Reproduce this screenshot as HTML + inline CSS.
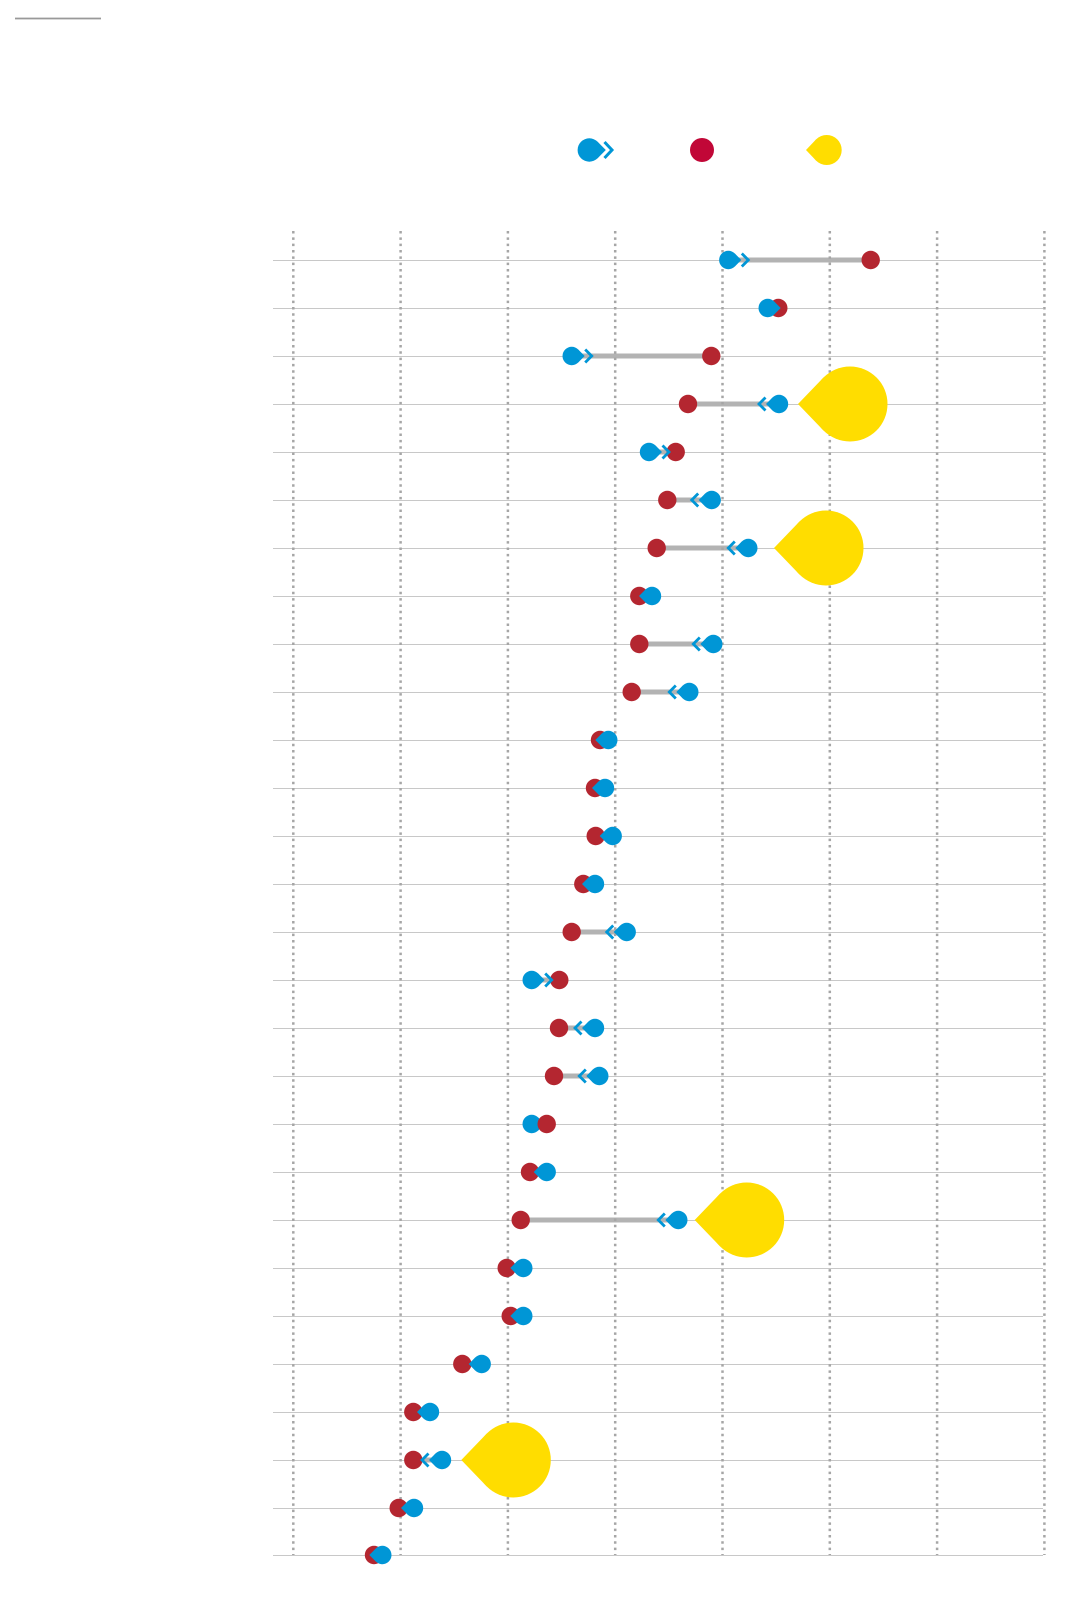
<!DOCTYPE html>
<html>
<head>
<meta charset="utf-8">
<style>
html,body{margin:0;padding:0;background:#fff;}
body{width:1092px;height:1604px;overflow:hidden;font-family:"Liberation Sans",sans-serif;}
svg{display:block;}
</style>
</head>
<body>
<svg width="1092" height="1604" viewBox="0 0 1092 1604" xmlns="http://www.w3.org/2000/svg">
<defs>
  <g id="bR" fill="#0096d6"><circle r="9.2"/><polygon points="0,0 6.5,-6.5 13,0 6.5,6.5"/></g>
  <g id="bL" fill="#0096d6"><circle r="9.2"/><polygon points="0,0 -6.5,-6.5 -13,0 -6.5,6.5"/></g>
  <polyline id="cR" points="13.5,-6.5 20,0 13.5,6.5" fill="none" stroke="#0096d6" stroke-width="2.8"/>
  <polyline id="cL" points="-13.5,-6.5 -20,0 -13.5,6.5" fill="none" stroke="#0096d6" stroke-width="2.8"/>
  <circle id="rd" r="9.2" fill="#b42630"/>
  <g id="yL" fill="#ffdd00"><circle r="37.5"/><polygon points="0,0 -26.5,-26.5 -52,0 -26.5,26.5"/></g>
</defs>

<!-- top-left rule -->
<line x1="15" y1="18.5" x2="101" y2="18.5" stroke="#999" stroke-width="1.7"/>

<!-- legend -->
<g fill="#0096d6">
  <circle cx="589.3" cy="150" r="11.7"/>
  <polygon points="589.3,150 597.6,141.7 605.8,150 597.6,158.3"/>
</g>
<polyline points="604.5,142 612,150 604.5,158" fill="none" stroke="#0096d6" stroke-width="3"/>
<circle cx="702" cy="150" r="12" fill="#c10737"/>
<g fill="#ffdd00">
  <circle cx="826.7" cy="150" r="15"/>
  <polygon points="826.7,150 816.1,139.4 806,150 816.1,160.6"/>
</g>

<!-- row lines -->
<g stroke="#c8c8c8" stroke-width="1">
  <line x1="273" y1="260.5" x2="1043" y2="260.5"/>
  <line x1="273" y1="308.5" x2="1043" y2="308.5"/>
  <line x1="273" y1="356.5" x2="1043" y2="356.5"/>
  <line x1="273" y1="404.5" x2="1043" y2="404.5"/>
  <line x1="273" y1="452.5" x2="1043" y2="452.5"/>
  <line x1="273" y1="500.5" x2="1043" y2="500.5"/>
  <line x1="273" y1="548.5" x2="1043" y2="548.5"/>
  <line x1="273" y1="596.5" x2="1043" y2="596.5"/>
  <line x1="273" y1="644.5" x2="1043" y2="644.5"/>
  <line x1="273" y1="692.5" x2="1043" y2="692.5"/>
  <line x1="273" y1="740.5" x2="1043" y2="740.5"/>
  <line x1="273" y1="788.5" x2="1043" y2="788.5"/>
  <line x1="273" y1="836.5" x2="1043" y2="836.5"/>
  <line x1="273" y1="884.5" x2="1043" y2="884.5"/>
  <line x1="273" y1="932.5" x2="1043" y2="932.5"/>
  <line x1="273" y1="980.5" x2="1043" y2="980.5"/>
  <line x1="273" y1="1028.5" x2="1043" y2="1028.5"/>
  <line x1="273" y1="1076.5" x2="1043" y2="1076.5"/>
  <line x1="273" y1="1124.5" x2="1043" y2="1124.5"/>
  <line x1="273" y1="1172.5" x2="1043" y2="1172.5"/>
  <line x1="273" y1="1220.5" x2="1043" y2="1220.5"/>
  <line x1="273" y1="1268.5" x2="1043" y2="1268.5"/>
  <line x1="273" y1="1316.5" x2="1043" y2="1316.5"/>
  <line x1="273" y1="1364.5" x2="1043" y2="1364.5"/>
  <line x1="273" y1="1412.5" x2="1043" y2="1412.5"/>
  <line x1="273" y1="1460.5" x2="1043" y2="1460.5"/>
  <line x1="273" y1="1508.5" x2="1043" y2="1508.5"/>
  <line x1="273" y1="1555.5" x2="1043" y2="1555.5"/>
</g>

<!-- bars -->
<g stroke="#b3b3b3" stroke-width="5">
  <line x1="728.3" y1="260" x2="870.7" y2="260"/>
  <line x1="767.7" y1="308" x2="778.3" y2="308"/>
  <line x1="571.7" y1="356" x2="711.3" y2="356"/>
  <line x1="688" y1="404" x2="779" y2="404"/>
  <line x1="649" y1="452" x2="675.7" y2="452"/>
  <line x1="667.3" y1="500" x2="711.7" y2="500"/>
  <line x1="656.7" y1="548" x2="748.3" y2="548"/>
  <line x1="639.3" y1="596" x2="652" y2="596"/>
  <line x1="639.3" y1="644" x2="713.3" y2="644"/>
  <line x1="631.7" y1="692" x2="689.3" y2="692"/>
  <line x1="600" y1="740" x2="608.3" y2="740"/>
  <line x1="595" y1="788" x2="605" y2="788"/>
  <line x1="595.7" y1="836" x2="612.7" y2="836"/>
  <line x1="583.3" y1="884" x2="595" y2="884"/>
  <line x1="571.7" y1="932" x2="626.7" y2="932"/>
  <line x1="531.7" y1="980" x2="559.3" y2="980"/>
  <line x1="559" y1="1028" x2="595" y2="1028"/>
  <line x1="554" y1="1076" x2="599.3" y2="1076"/>
  <line x1="531.7" y1="1124" x2="546.7" y2="1124"/>
  <line x1="530" y1="1172" x2="546.7" y2="1172"/>
  <line x1="520.7" y1="1220" x2="678.3" y2="1220"/>
  <line x1="506.7" y1="1268" x2="523.3" y2="1268"/>
  <line x1="510.7" y1="1316" x2="523.3" y2="1316"/>
  <line x1="462.3" y1="1364" x2="481.7" y2="1364"/>
  <line x1="413.3" y1="1412" x2="430" y2="1412"/>
  <line x1="413.3" y1="1460" x2="442" y2="1460"/>
  <line x1="398.7" y1="1508" x2="414" y2="1508"/>
  <line x1="374" y1="1555" x2="382.3" y2="1555"/>
</g>

<!-- dotted grid -->
<g stroke="#a6a6a6" stroke-width="2.5" stroke-dasharray="2.5 3.83">
  <line x1="293.3" y1="231" x2="293.3" y2="1555"/>
  <line x1="400.6" y1="231" x2="400.6" y2="1555"/>
  <line x1="507.9" y1="231" x2="507.9" y2="1555"/>
  <line x1="615.2" y1="231" x2="615.2" y2="1555"/>
  <line x1="722.5" y1="231" x2="722.5" y2="1555"/>
  <line x1="829.8" y1="231" x2="829.8" y2="1555"/>
  <line x1="937.1" y1="231" x2="937.1" y2="1555"/>
  <line x1="1044.4" y1="231" x2="1044.4" y2="1555"/>
</g>

<!-- yellow markers -->
<use href="#yL" x="850" y="404"/>
<use href="#yL" x="826" y="548"/>
<use href="#yL" x="746.7" y="1220"/>
<use href="#yL" x="513.3" y="1460"/>

<!-- red dots (except row 18, drawn on top later) -->
<use href="#rd" x="870.7" y="260"/>
<use href="#rd" x="778.3" y="308"/>
<use href="#rd" x="711.3" y="356"/>
<use href="#rd" x="688" y="404"/>
<use href="#rd" x="675.7" y="452"/>
<use href="#rd" x="667.3" y="500"/>
<use href="#rd" x="656.7" y="548"/>
<use href="#rd" x="639.3" y="596"/>
<use href="#rd" x="639.3" y="644"/>
<use href="#rd" x="631.7" y="692"/>
<use href="#rd" x="600" y="740"/>
<use href="#rd" x="595" y="788"/>
<use href="#rd" x="595.7" y="836"/>
<use href="#rd" x="583.3" y="884"/>
<use href="#rd" x="571.7" y="932"/>
<use href="#rd" x="559.3" y="980"/>
<use href="#rd" x="559" y="1028"/>
<use href="#rd" x="554" y="1076"/>
<use href="#rd" x="530" y="1172"/>
<use href="#rd" x="520.7" y="1220"/>
<use href="#rd" x="506.7" y="1268"/>
<use href="#rd" x="510.7" y="1316"/>
<use href="#rd" x="462.3" y="1364"/>
<use href="#rd" x="413.3" y="1412"/>
<use href="#rd" x="413.3" y="1460"/>
<use href="#rd" x="398.7" y="1508"/>
<use href="#rd" x="374" y="1555"/>

<!-- blue markers -->
<use href="#bR" x="728.3" y="260"/><use href="#cR" x="728.3" y="260"/>
<use href="#bR" x="767.7" y="308"/>
<use href="#bR" x="571.7" y="356"/><use href="#cR" x="571.7" y="356"/>
<use href="#bL" x="779" y="404"/><use href="#cL" x="779" y="404"/>
<use href="#bR" x="649" y="452"/><use href="#cR" x="649" y="452"/>
<use href="#bL" x="711.7" y="500"/><use href="#cL" x="711.7" y="500"/>
<use href="#bL" x="748.3" y="548"/><use href="#cL" x="748.3" y="548"/>
<use href="#bL" x="652" y="596"/>
<use href="#bL" x="713.3" y="644"/><use href="#cL" x="713.3" y="644"/>
<use href="#bL" x="689.3" y="692"/><use href="#cL" x="689.3" y="692"/>
<use href="#bL" x="608.3" y="740"/>
<use href="#bL" x="605" y="788"/>
<use href="#bL" x="612.7" y="836"/>
<use href="#bL" x="595" y="884"/>
<use href="#bL" x="626.7" y="932"/><use href="#cL" x="626.7" y="932"/>
<use href="#bR" x="531.7" y="980"/><use href="#cR" x="531.7" y="980"/>
<use href="#bL" x="595" y="1028"/><use href="#cL" x="595" y="1028"/>
<use href="#bL" x="599.3" y="1076"/><use href="#cL" x="599.3" y="1076"/>
<use href="#bR" x="531.7" y="1124"/>
<use href="#rd" x="546.7" y="1124"/>
<use href="#bL" x="546.7" y="1172"/>
<use href="#bL" x="678.3" y="1220"/><use href="#cL" x="678.3" y="1220"/>
<use href="#bL" x="523.3" y="1268"/>
<use href="#bL" x="523.3" y="1316"/>
<use href="#bL" x="481.7" y="1364"/>
<use href="#bL" x="430" y="1412"/>
<use href="#bL" x="442" y="1460"/><use href="#cL" x="442" y="1460"/>
<use href="#bL" x="414" y="1508"/>
<use href="#bL" x="382.3" y="1555"/>
</svg>
</body>
</html>
